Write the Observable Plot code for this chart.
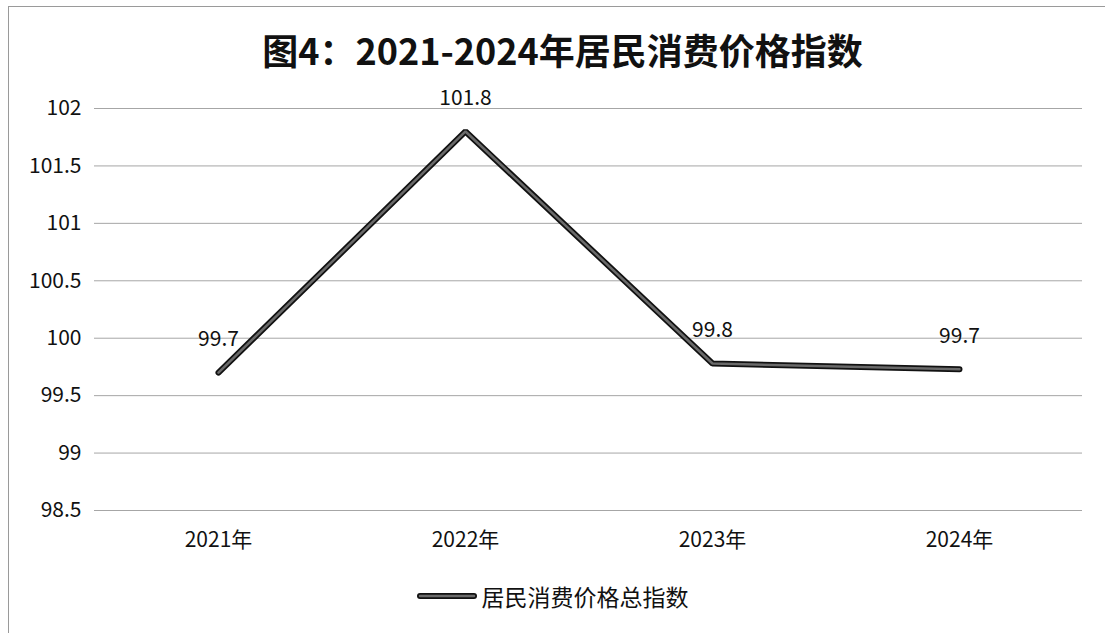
<!DOCTYPE html>
<html>
<head>
<meta charset="utf-8">
<script src="https://cdn.jsdelivr.net/npm/d3@7"></script>
<script src="https://cdn.jsdelivr.net/npm/@observablehq/plot@0.6"></script>
<style>
  body { margin: 0; background: #fff; }
  #wrap { position: relative; width: 1105px; height: 633px; overflow: hidden; font-family: "Noto Sans CJK SC", "Noto Sans", sans-serif; }
  #frame { position: absolute; left: 8px; top: 6px; right: 0; bottom: 0; border-top: 1px solid #9a9a9a; border-left: 1px solid #9a9a9a; }
  #title { position: absolute; top: 23px; left: 10px; width: 1105px; text-align: center; font-size: 36px; font-weight: bold; color: #111; line-height: 52px; }
  #chart { position: absolute; left: 0; top: 0; }
  #legend { position: absolute; top: 579px; left: 0; width: 1105px; display: flex; justify-content: center; align-items: center; font-size: 23px; color: #111; padding-left: 0px; box-sizing: border-box; }
  #legend svg { margin-right: 5px; }
</style>
</head>
<body>
<div id="wrap">
  <div id="frame"></div>
  <div id="chart"></div>
  <div id="title">图4：2021-2024年居民消费价格指数</div>
  <div id="legend"></div>
</div>
<script>
const years = ["2021年", "2022年", "2023年", "2024年"];
const cpi = [99.7, 101.8, 99.78, 99.73];
const valueLabels = ["99.7", "101.8", "99.8", "99.7"];
const yTicks = [98.5, 99, 99.5, 100, 100.5, 101, 101.5, 102];
const seriesName = "居民消费价格总指数";

const data = years.map((y, i) => ({year: y, value: cpi[i], label: valueLabels[i]}));

const chart = Plot.plot({
  width: 1105,
  height: 560,
  marginTop: 108,
  marginBottom: 50,
  marginLeft: 94,
  marginRight: 23,
  style: {fontFamily: '"Noto Sans CJK SC", "Noto Sans", sans-serif', fontSize: "21px", color: "#111", background: "transparent"},
  x: {type: "point", domain: years, padding: 0.5, label: null},
  y: {domain: [98.5, 102], ticks: yTicks, label: null},
  marks: [
    Plot.gridY(yTicks, {stroke: "#a6a6a6", strokeOpacity: 1, strokeWidth: 1}),
    Plot.axisY(yTicks, {tickSize: 0, tickPadding: 13, tickFormat: d => String(d), fontSize: 21, label: null}),
    Plot.axisX({tickSize: 0, tickPadding: 22, fontSize: 21, label: null}),
    Plot.line(data, {x: "year", y: "value", stroke: "#111", strokeWidth: 6, strokeLinecap: "round", strokeLinejoin: "miter"}),
    Plot.line(data, {x: "year", y: "value", stroke: "#6a6a6a", strokeWidth: 2.5, strokeLinecap: "round", strokeLinejoin: "miter"}),
    Plot.text(data, {x: "year", y: "value", text: "label", dy: -33, fontSize: 21, fill: "#111"})
  ]
});
document.getElementById("chart").appendChild(chart);

const legend = document.getElementById("legend");
legend.innerHTML = `<svg width="60" height="10"><line x1="3" y1="5" x2="57" y2="5" stroke="#111" stroke-width="6" stroke-linecap="round"/><line x1="3" y1="5" x2="57" y2="5" stroke="#6a6a6a" stroke-width="2.5" stroke-linecap="round"/></svg><span>${seriesName}</span>`;
</script>
</body>
</html>
